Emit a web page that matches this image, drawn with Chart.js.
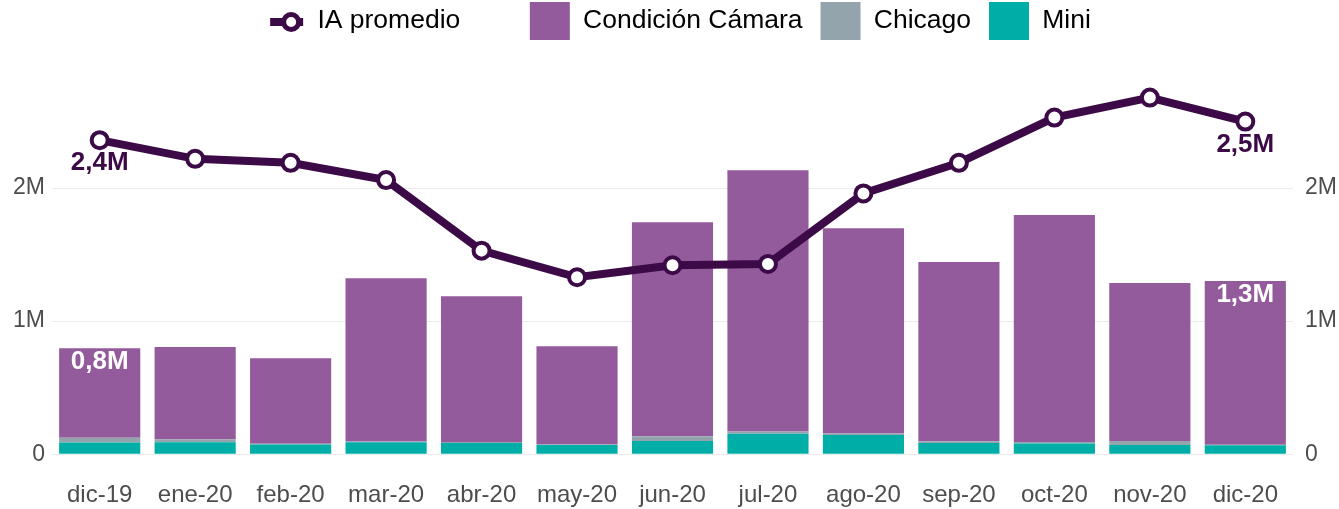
<!DOCTYPE html>
<html>
<head>
<meta charset="utf-8">
<script src="https://cdn.jsdelivr.net/npm/chart.js@4"></script>
<style>
  html, body { margin: 0; padding: 0; background: #fff; overflow: hidden; }
  #wrap { width: 1339px; height: 509px; position: relative; }
</style>
</head>
<body>
<div id="wrap"><canvas id="chart"></canvas></div>
<script>
// valores en millones
const meses = ['dic-19','ene-20','feb-20','mar-20','abr-20','may-20','jun-20','jul-20','ago-20','sep-20','oct-20','nov-20','dic-20'];
const iaPromedio = [2.36, 2.22, 2.19, 2.06, 1.53, 1.33, 1.42, 1.43, 1.96, 2.19, 2.53, 2.68, 2.50];
const mini = [0.088, 0.090, 0.073, 0.090, 0.085, 0.070, 0.100, 0.153, 0.145, 0.085, 0.080, 0.070, 0.068];
const chicago = [0.035, 0.023, 0.005, 0.005, 0.007, 0.004, 0.035, 0.018, 0.010, 0.013, 0.012, 0.030, 0.003];
const camara = [0.674, 0.692, 0.644, 1.228, 1.096, 0.738, 1.609, 1.964, 1.544, 1.346, 1.705, 1.186, 1.230];
const yTicks = [0, 1, 2];

const colLinea = '#3c0a47';
const fuente = '"Liberation Sans", Arial, sans-serif';
const fmt = v => v.toFixed(1).replace('.', ',') + 'M';

// etiquetas del primer y último punto / barra
const etiquetas = {
  id: 'etiquetas',
  afterDatasetsDraw(chart) {
    const ctx = chart.ctx;
    const last = meses.length - 1;
    ctx.save();
    ctx.font = 'bold 26px ' + fuente;
    ctx.textAlign = 'center';
    ctx.textBaseline = 'middle';
    const metaTop = chart.getDatasetMeta(3);
    [0, last].forEach(i => {
      const el = metaTop.data[i];
      const total = mini[i] + chicago[i] + camara[i];
      ctx.fillStyle = '#ffffff';
      ctx.fillText(fmt(total), el.x, el.y + 14);
    });
    const metaLine = chart.getDatasetMeta(0);
    [0, last].forEach(i => {
      const el = metaLine.data[i];
      ctx.fillStyle = colLinea;
      ctx.fillText(fmt(iaPromedio[i]), el.x, el.y + 23);
    });
    ctx.restore();
  }
};

// alto fijo de la leyenda y marcador de línea
const leyenda = {
  id: 'leyenda',
  beforeLayout(chart) {
    const lg = chart.legend;
    if (lg && !lg._altoFijo) {
      const fitOrig = lg.fit;
      lg.fit = function () { fitOrig.call(this); this.height = 91; };
      lg._altoFijo = true;
    }
  },
  afterDraw(chart) {
    const hb = chart.legend && chart.legend.legendHitBoxes && chart.legend.legendHitBoxes[0];
    if (!hb) return;
    const ctx = chart.ctx;
    const cx = hb.left + 27;
    const cy = hb.top + 20;
    ctx.save();
    ctx.strokeStyle = colLinea;
    ctx.lineWidth = 8;
    ctx.beginPath();
    ctx.moveTo(hb.left + 6, cy);
    ctx.lineTo(hb.left + 39, cy);
    ctx.stroke();
    ctx.beginPath();
    ctx.arc(cx, cy, 7.5, 0, Math.PI * 2);
    ctx.fillStyle = '#ffffff';
    ctx.fill();
    ctx.lineWidth = 5;
    ctx.stroke();
    ctx.restore();
  }
};

const axisY = (pos, showGrid) => ({
  position: pos,
  stacked: true,
  min: 0,
  max: 2.85,
  afterBuildTicks: axis => { axis.ticks = yTicks.map(v => ({ value: v })); },
  grid: { display: showGrid, color: '#ebebeb', lineWidth: 1, drawTicks: false },
  border: { display: false },
  ticks: {
    padding: pos === 'left' ? 7 : 12,
    color: '#4d4d4d',
    font: { size: 23, family: fuente },
    callback: v => v === 0 ? '0' : v + 'M'
  }
});

new Chart(document.getElementById('chart').getContext('2d'), {
  data: {
    labels: meses,
    datasets: [
      {
        type: 'line',
        label: 'IA promedio',
        data: iaPromedio,
        yAxisID: 'y1',
        order: 0,
        borderColor: colLinea,
        backgroundColor: '#ffffff',
        borderWidth: 8,
        pointRadius: 8,
        pointBorderWidth: 4,
        pointBackgroundColor: '#ffffff',
        pointBorderColor: colLinea,
        tension: 0
      },
      {
        type: 'bar',
        label: 'Mini',
        data: mini,
        yAxisID: 'y',
        order: 1,
        backgroundColor: '#00aea8',
        barPercentage: 0.85,
        categoryPercentage: 1
      },
      {
        type: 'bar',
        label: 'Chicago',
        data: chicago,
        yAxisID: 'y',
        order: 1,
        backgroundColor: '#93a4ac',
        barPercentage: 0.85,
        categoryPercentage: 1
      },
      {
        type: 'bar',
        label: 'Condición Cámara',
        data: camara,
        yAxisID: 'y',
        order: 1,
        backgroundColor: '#945b9c',
        barPercentage: 0.85,
        categoryPercentage: 1
      }
    ]
  },
  options: {
    responsive: true,
    maintainAspectRatio: false,
    animation: false,
    layout: { padding: { left: 6, right: -10, top: -16, bottom: -28 } },
    plugins: {
      tooltip: { enabled: false },
      legend: {
        position: 'top',
        align: 'center',
        labels: {
          boxWidth: 40,
          boxHeight: 38,
          padding: 18,
          color: '#222222',
          font: { size: 26.5, family: fuente },
          generateLabels: chart => {
            const orden = [0, 3, 2, 1];
            return orden.map(i => {
              const ds = chart.data.datasets[i];
              const esLinea = ds.type === 'line';
              return {
                // espacio extra tras el marcador de línea
                text: esLinea ? ds.label + '\u00a0'.repeat(7) : ds.label,
                fillStyle: esLinea ? 'rgba(0,0,0,0)' : ds.backgroundColor,
                strokeStyle: 'rgba(0,0,0,0)',
                lineWidth: 0,
                datasetIndex: i,
                hidden: false
              };
            });
          }
        }
      }
    },
    scales: {
      x: {
        stacked: true,
        offset: true,
        grid: { display: false, drawTicks: false },
        border: { display: false },
        ticks: {
          padding: 27,
          color: '#4d4d4d',
          maxRotation: 0,
          font: { size: 24, family: fuente }
        }
      },
      y: axisY('left', true),
      y1: axisY('right', false)
    }
  },
  plugins: [etiquetas, leyenda]
});
</script>
</body>
</html>
